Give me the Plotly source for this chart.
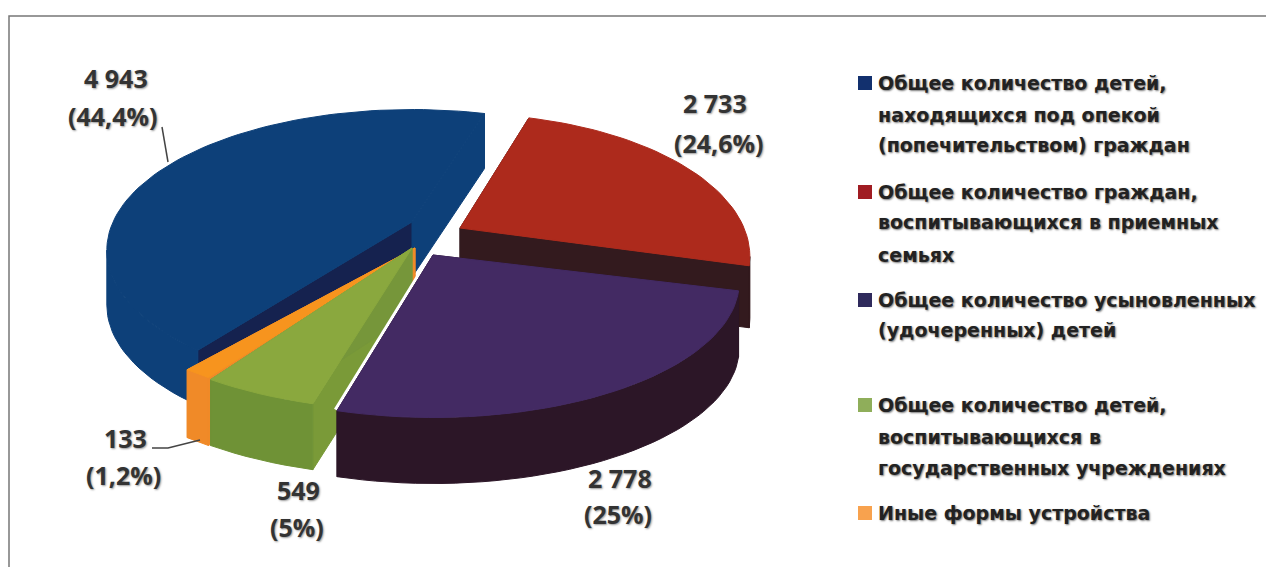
import math
import plotly.graph_objects as go

# --- data ---
categories = [
    "Общее количество детей, находящихся под опекой (попечительством) граждан",
    "Общее количество граждан, воспитывающихся в приемных семьях",
    "Общее количество усыновленных (удочеренных) детей",
    "Общее количество детей, воспитывающихся в государственных учреждениях",
    "Иные формы устройства",
]
values = [4943, 2733, 2778, 549, 133]
value_labels = ["4 943", "2 733", "2 778", "549", "133"]
percent_labels = ["(44,4%)", "(24,6%)", "(25%)", "(5%)", "(1,2%)"]
legend_lines = [
    ["Общее количество детей,", "находящихся под опекой", "(попечительством) граждан"],
    ["Общее количество граждан,", "воспитывающихся в приемных", "семьях"],
    ["Общее количество усыновленных", "(удочеренных) детей"],
    ["Общее количество детей,", "воспитывающихся в", "государственных учреждениях"],
    ["Иные формы устройства"],
]

# --- styling ---
W, H = 1266, 567
TOP = ["#0d4079", "#ad2a1c", "#432a63", "#8aa83e", "#f7941e"]
OUTER = ["#0d4079", "#331a1e", "#2c1627", "#6f9236", "#f08a28"]
RAD_START = ["#15224f", "#331a1e", "#2c1627", "#7a9a38", "#f08a28"]
RAD_END = ["#0d4079", "#331a1e", "#2c1627", "#76963a", "#f08a28"]
LEGEND_COL = ["#12306e", "#a01c22", "#2f2a5c", "#8fae5a", "#f8a24e"]
# exploded-slice geometry: centre x, centre y, x radius, y radius, depth
GEOM = [
    (412, 222, 299, 135, 55),
    (460, 228, 284, 137, 62),
    (433, 255, 300, 130, 66),
    (412, 248, 310, 130, 66),
    (415, 248, 318, 128, 68),
]
PERSP = 0.2
START_DEG = 127.0          # screen angle at which the first slice begins
DRAW_ORDER = [1, 0, 4, 3, 2]
GAP_SLICE = 2              # the slice with a white gap along its left edge
LABEL_POS = [
    ((116, 78), (112, 116)),
    ((715, 103), (718, 143)),
    ((620, 478), (618, 514)),
    ((298, 490), (297, 527)),
    ((125, 438), (123, 475)),
]
LEGEND_Y = [[83, 115, 145], [192, 222, 255], [300, 330], [405, 437, 468], [513]]
LABEL_FONT = "Open Sans"
LEGEND_FONT = "DejaVu Sans"


def project(g, deg, drop=0):
    cx, cy, a, b, _ = g
    t = math.radians(deg)
    x, y = math.cos(t), math.sin(t)
    s = 1 / (1 - PERSP * y)
    return cx + a * x * s, cy + b * y * s + drop


def poly(pts, color, name):
    return go.Scatter(
        x=[p[0] for p in pts] + [pts[0][0]],
        y=[p[1] for p in pts] + [pts[0][1]],
        mode="lines", fill="toself", fillcolor=color,
        line=dict(color=color, width=1),
        name=name, showlegend=False, hoverinfo="name",
    )


def front_ranges(a0, a1):
    """Parts of an arc on the viewer's side, between the two silhouette tangents."""
    t = math.degrees(math.asin(PERSP))
    out = []
    for lo, hi in ((t, 180 - t), (360 + t, 540 - t)):
        l, r = max(a0, lo), min(a1, hi)
        if l < r:
            out.append((l, r))
    return out


def sample(a0, a1):
    n = max(6, int((a1 - a0) / 2))
    return [a0 + (a1 - a0) * k / n for k in range(n + 1)]


total = sum(values)
bounds = []
acc = START_DEG
for v in values:
    bounds.append((acc, acc + 360 * v / total))
    acc += 360 * v / total

fig = go.Figure()
for i in DRAW_ORDER:
    g = GEOM[i]
    a0, a1 = bounds[i]
    h = g[4]
    arc = [project(g, d) for d in sample(a0, a1)]
    centre = (g[0], g[1])
    centre_low = (g[0], g[1] + h)
    if i == GAP_SLICE:
        # white separation between this slice and the ones behind it
        fig.add_trace(go.Scatter(x=[centre[0], arc[-1][0]], y=[centre[1], arc[-1][1]], mode="lines",
                                 line=dict(color="white", width=7), showlegend=False, hoverinfo="skip"))
    fig.add_trace(poly([centre, arc[0], project(g, a0, h), centre_low], RAD_START[i], categories[i]))
    fig.add_trace(poly([centre, arc[-1], project(g, a1, h), centre_low], RAD_END[i], categories[i]))
    for lo, hi in front_ranges(a0, a1):
        degs = sample(lo, hi)
        fig.add_trace(poly([project(g, d) for d in degs] + [project(g, d, h) for d in degs[::-1]],
                           OUTER[i], categories[i]))
    fig.add_trace(poly([centre] + arc, TOP[i], categories[i]))

# leader lines
fig.add_trace(go.Scatter(x=[162, 168], y=[127, 162], mode="lines",
                         line=dict(color="#444", width=1.5), showlegend=False, hoverinfo="skip"))
fig.add_trace(go.Scatter(x=[152, 168, 200], y=[448, 448, 440], mode="lines",
                         line=dict(color="#444", width=1.5), showlegend=False, hoverinfo="skip"))
# frame
fig.add_trace(go.Scatter(x=[9, 9, W], y=[H, 16, 16], mode="lines",
                         line=dict(color="#777", width=1.5), showlegend=False, hoverinfo="skip"))

for i in range(len(values)):
    for txt, (x, y) in zip((value_labels[i], percent_labels[i]), LABEL_POS[i]):
        fig.add_annotation(x=x, y=y, text=f"<b>{txt}</b>", showarrow=False,
                           font=dict(family=LABEL_FONT, size=25, color="#333", shadow="1px 1px 2px #999"))

for i, lines in enumerate(legend_lines):
    fig.add_trace(go.Scatter(x=[865], y=[LEGEND_Y[i][0]], mode="markers",
                             marker=dict(symbol="square", size=14, color=LEGEND_COL[i]),
                             name=categories[i], showlegend=False, hoverinfo="name"))
    for line, y in zip(lines, LEGEND_Y[i]):
        fig.add_annotation(x=876, y=y, xanchor="left", text=f"<b>{line}</b>", showarrow=False,
                           font=dict(family=LEGEND_FONT, size=19, color="#222", shadow="1px 1px 2px #777"))

fig.update_layout(
    width=W, height=H, margin=dict(l=0, r=0, t=0, b=0),
    paper_bgcolor="white", plot_bgcolor="white",
    xaxis=dict(range=[0, W], visible=False, fixedrange=True),
    yaxis=dict(range=[H, 0], visible=False, fixedrange=True),
    showlegend=False,
)
fig.write_html("out.html", config={"displayModeBar": False},
               post_script="document.body.style.margin='0';")
